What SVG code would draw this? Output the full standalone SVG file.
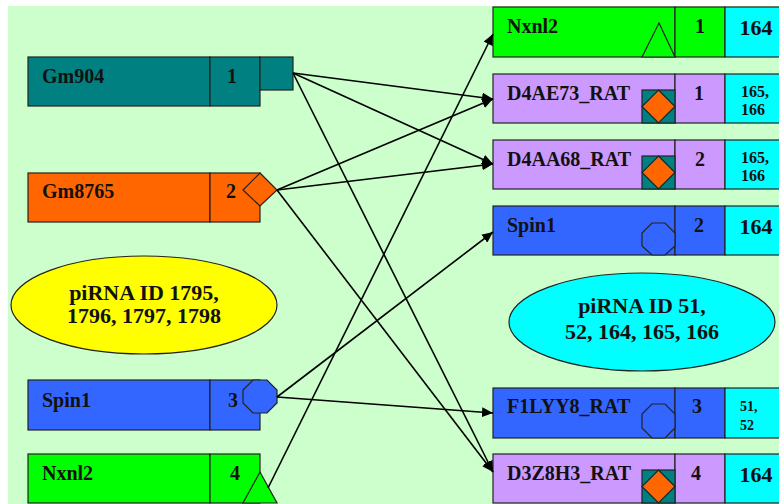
<svg xmlns="http://www.w3.org/2000/svg" width="779" height="504" viewBox="0 0 779 504">
<style>
.n{stroke:#222;stroke-width:1.2}
.t{font-family:"Liberation Serif","Times New Roman",serif;font-weight:bold;fill:#111}
.lbl{font-size:20px}
.num{font-size:20px;text-anchor:middle}
.big{font-size:22px;text-anchor:middle}
.sm{font-size:16px}
.xs{font-size:14px}
.ell{font-size:22px;text-anchor:middle}
.teal{fill:#008080}.orange{fill:#FF6600}.blue{fill:#3366FF}.green{fill:#00FF00}.purple{fill:#CC99FF}.cyan{fill:#00FFFF}.yellow{fill:#FFFF00}
.c{stroke:#000;stroke-width:1.6;fill:none;marker-end:url(#ah)}
</style>
<defs>
<marker id="ah" markerUnits="userSpaceOnUse" markerWidth="12" markerHeight="10" refX="11" refY="5" orient="auto">
<path d="M0,0 L11,5 L0,10 z" fill="#000"/>
</marker>
</defs>
<rect x="0" y="0" width="779" height="504" fill="#fff"/>
<rect x="8" y="6" width="771" height="498" fill="#CCFFCC"/>

<g id="gm904">
<rect class="n teal" x="28" y="57" width="182" height="49"/>
<rect class="n teal" x="210" y="57" width="50" height="49"/>
<rect class="n teal" x="260" y="57" width="33" height="33"/>
<text class="t lbl" x="42" y="83">Gm904</text>
<text class="t num" x="232" y="83">1</text>
</g>

<g id="gm8765">
<rect class="n orange" x="28" y="173" width="182" height="49"/>
<rect class="n orange" x="210" y="173" width="50" height="49"/>
<polygon class="n orange" points="260,173 277,190 260,206 243,190"/>
<text class="t lbl" x="42" y="198">Gm8765</text>
<text class="t num" x="231" y="198">2</text>
</g>

<g id="ellipse-left">
<ellipse class="n yellow" cx="144" cy="305" rx="133" ry="49"/>
<text class="t ell" x="144" y="300">piRNA ID 1795,</text>
<text class="t ell" x="144" y="323">1796, 1797, 1798</text>
</g>

<g id="spin1-left">
<rect class="n blue" x="28" y="380" width="182" height="50"/>
<rect class="n blue" x="210" y="380" width="50" height="50"/>
<polygon class="n blue" points="253,380 267,380 277,390 277,403 267,413 253,413 243,403 243,390"/>
<text class="t lbl" x="42" y="407">Spin1</text>
<text class="t num" x="233" y="407">3</text>
</g>

<g id="nxnl2-left">
<rect class="n green" x="28" y="454" width="182" height="49"/>
<rect class="n green" x="210" y="454" width="50" height="49"/>
<polygon class="n green" points="260,472 277,503 243,503"/>
<text class="t lbl" x="42" y="480">Nxnl2</text>
<text class="t num" x="235" y="480">4</text>
</g>

<g id="nxnl2-right">
<rect class="n green" x="493" y="7" width="182" height="50"/>
<rect class="n green" x="675" y="7" width="50" height="50"/>
<rect class="n cyan" x="725" y="7" width="70" height="50"/>
<polygon class="n green" points="659,23 675,57 642,57"/>
<text class="t lbl" x="507" y="33">Nxnl2</text>
<text class="t num" x="700" y="33">1</text>
<text class="t big" x="756" y="35">164</text>
</g>

<g id="d4ae73">
<rect class="n purple" x="493" y="74" width="182" height="49"/>
<rect class="n purple" x="675" y="74" width="50" height="49"/>
<rect class="n cyan" x="725" y="74" width="70" height="49"/>
<rect class="n teal" x="642" y="90" width="33" height="33"/>
<polygon class="n orange" points="658.5,90 675,106.5 658.5,123 642,106.5"/>
<text class="t lbl" x="507" y="100">D4AE73_RAT</text>
<text class="t num" x="699" y="100">1</text>
<text class="t sm" x="741" y="97">165,</text>
<text class="t sm" x="741" y="115">166</text>
</g>

<g id="d4aa68">
<rect class="n purple" x="493" y="140" width="182" height="49"/>
<rect class="n purple" x="675" y="140" width="50" height="49"/>
<rect class="n cyan" x="725" y="140" width="70" height="49"/>
<rect class="n teal" x="642" y="156" width="33" height="33"/>
<polygon class="n orange" points="658.5,156 675,172.5 658.5,189 642,172.5"/>
<text class="t lbl" x="507" y="166">D4AA68_RAT</text>
<text class="t num" x="700" y="166">2</text>
<text class="t sm" x="741" y="163">165,</text>
<text class="t sm" x="741" y="181">166</text>
</g>

<g id="spin1-right">
<rect class="n blue" x="493" y="206" width="182" height="49"/>
<rect class="n blue" x="675" y="206" width="50" height="49"/>
<rect class="n cyan" x="725" y="206" width="70" height="49"/>
<polygon class="n blue" points="652,223 665,223 675,233 675,246 665,255 652,255 642,246 642,233"/>
<text class="t lbl" x="507" y="232">Spin1</text>
<text class="t num" x="699" y="232">2</text>
<text class="t big" x="756" y="234">164</text>
</g>

<g id="ellipse-right">
<ellipse class="n cyan" cx="642" cy="322" rx="133" ry="49"/>
<text class="t ell" x="642" y="313">piRNA ID 51,</text>
<text class="t ell" x="642" y="339">52, 164, 165, 166</text>
</g>

<g id="f1lyy8">
<rect class="n blue" x="493" y="388" width="182" height="50"/>
<rect class="n blue" x="675" y="388" width="50" height="50"/>
<rect class="n cyan" x="725" y="388" width="70" height="50"/>
<polygon class="n blue" points="652,404 665,404 675,414 675,428 665,438 652,438 642,428 642,414"/>
<text class="t lbl" x="507" y="413">F1LYY8_RAT</text>
<text class="t num" x="697" y="413">3</text>
<text class="t xs" x="740" y="411">51,</text>
<text class="t xs" x="740" y="430">52</text>
</g>

<g id="d3z8h3">
<rect class="n purple" x="493" y="454" width="182" height="49"/>
<rect class="n purple" x="675" y="454" width="50" height="49"/>
<rect class="n cyan" x="725" y="454" width="70" height="49"/>
<rect class="n teal" x="642" y="470" width="33" height="33"/>
<polygon class="n orange" points="658.5,470 675,486.5 658.5,503 642,486.5"/>
<text class="t lbl" x="507" y="480">D3Z8H3_RAT</text>
<text class="t num" x="696" y="480">4</text>
<text class="t big" x="756" y="482">164</text>
</g>

<g id="connectors">
<line class="c" x1="293" y1="73" x2="493" y2="99"/>
<line class="c" x1="293" y1="73" x2="493" y2="164"/>
<line class="c" x1="293" y1="73" x2="493" y2="472"/>
<line class="c" x1="277" y1="190" x2="493" y2="99"/>
<line class="c" x1="277" y1="190" x2="493" y2="164"/>
<line class="c" x1="277" y1="190" x2="493" y2="472"/>
<line class="c" x1="277" y1="397" x2="493" y2="232"/>
<line class="c" x1="277" y1="397" x2="493" y2="413"/>
<line class="c" x1="268" y1="488" x2="493" y2="34"/>
</g>
</svg>
